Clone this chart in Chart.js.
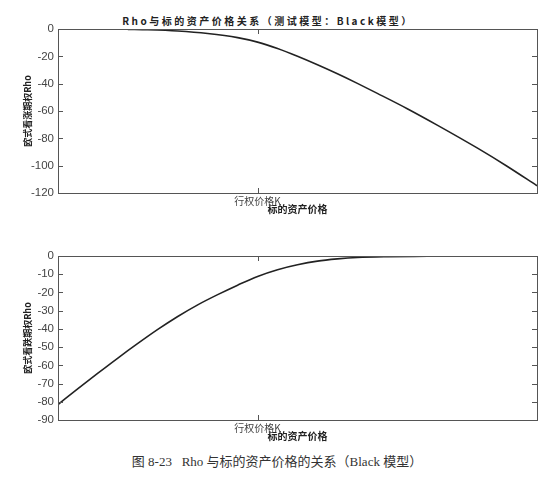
<!DOCTYPE html>
<html><head><meta charset="utf-8">
<script src="https://cdn.jsdelivr.net/npm/chart.js@4.4.0/dist/chart.umd.min.js"></script>
<style>
html,body{margin:0;padding:0;background:#fff;width:559px;height:483px;overflow:hidden;position:relative}
.box{position:absolute;left:0;width:559px;height:216px}
#b1{top:0}#b2{top:230px}
#title{position:absolute;left:0;width:536px;text-align:center;top:13px;font:bold 10px "Noto Sans CJK SC";letter-spacing:2.5px;color:#222;white-space:nowrap}
#caption{position:absolute;left:0;width:554px;text-align:center;top:451px;font:13px "Liberation Serif","Noto Sans CJK SC";color:#333;white-space:pre}
</style></head>
<body>
<div id="title">Rho与标的资产价格关系（测试模型：Black模型）</div>
<div class="box" id="b1"><canvas id="c1"></canvas></div>
<div class="box" id="b2"><canvas id="c2"></canvas></div>
<div id="caption">图 8-23   Rho 与标的资产价格的关系（Black 模型）</div>
<script>
// ---- data ----
const strike = 100;
const strikeLabel = '行权价格K';
const xAxisTitle = '标的资产价格';
const xCall = [35,45,60,75,90,100,110,120,130,140,150,160,175,190,210,225,240];
const rhoCall = [-0.3,-0.6,-1.5,-3.3,-6.3,-9.6,-14.3,-20,-26.2,-32.8,-39.8,-47.1,-58.3,-70.3,-87,-100.4,-114.7];
const xPut = [0,10,20,30,40,50,60,70,80,90,100,110,120,130,140,150,165,185];
const rhoPut = [-81.5,-72.8,-64.3,-56,-48,-40.3,-33.2,-26.8,-21.2,-16,-11.2,-7.5,-4.8,-2.8,-1.6,-0.8,-0.35,-0.15];
const callLabel = '欧式看涨期权Rho';
const putLabel = '欧式看跌期权Rho';

const boxPlugin = {
  id:'box',
  afterDraw(chart){
    const {ctx, chartArea:a, scales} = chart;
    ctx.save();
    ctx.strokeStyle='#555'; ctx.lineWidth=1;
    ctx.strokeRect(Math.round(a.left)+0.5, Math.round(a.top)+0.5, Math.round(a.right-a.left), Math.round(a.bottom-a.top));
    const tl=5;
    ctx.beginPath();
    scales.y.ticks.forEach(t=>{const p=Math.round(scales.y.getPixelForValue(t.value))+0.5;
      ctx.moveTo(a.left,p);ctx.lineTo(a.left+tl,p);ctx.moveTo(a.right,p);ctx.lineTo(a.right-tl,p);});
    scales.x.ticks.forEach(t=>{const p=Math.round(scales.x.getPixelForValue(t.value))+0.5;
      ctx.moveTo(p,a.bottom);ctx.lineTo(p,a.bottom-tl);ctx.moveTo(p,a.top);ctx.lineTo(p,a.top+tl);});
    ctx.stroke(); ctx.restore();
  }
};

function makeChart(id, xs, ys, yMin, yStep, yLabel, pad, xH){
  new Chart(document.getElementById(id), {
    type:'line',
    data:{datasets:[{data: xs.map((x,i)=>({x, y: ys[i]})), borderColor:'#222', borderWidth:1.6,
      pointRadius:0, cubicInterpolationMode:'monotone', fill:false}]},
    options:{
      responsive:true, maintainAspectRatio:false, animation:false,
      layout:{padding:pad},
      plugins:{legend:{display:false}, tooltip:{enabled:false}},
      scales:{
        x:{type:'linear', min:0, max:240,
          afterBuildTicks:s=>{s.ticks=[{value:strike}];},
          afterFit:s=>{s.height=xH;},
          grid:{display:false, drawTicks:false}, border:{display:false},
          ticks:{callback:()=>strikeLabel, autoSkip:false, maxRotation:0, padding:2,
            font:{family:'"Noto Sans CJK SC"', size:10}, color:'#444'},
          title:{display:true, text:xAxisTitle, padding:{top:0,bottom:0},
            font:{family:'"Noto Sans CJK SC"', size:10, weight:'bold'}, color:'#222'}},
        y:{min:yMin, max:0,
          afterFit:s=>{s.width=58-pad.left;},
          grid:{display:false, drawTicks:false}, border:{display:false},
          ticks:{stepSize:yStep, padding:4, font:{family:'"Liberation Sans"', size:11.5}, color:'#444'},
          title:{display:true, text:yLabel, padding:{top:2,bottom:0},
            font:{family:'"Noto Sans CJK SC"', size:9, weight:'bold'}, color:'#222'}}
      }
    },
    plugins:[boxPlugin]
  });
}
makeChart('c1', xCall, rhoCall, -120, 20, callLabel, {left:20, top:29, right:22, bottom:1}, 22);
makeChart('c2', xPut, rhoPut, -90, 10, putLabel, {left:20, top:26, right:22, bottom:3.3}, 22.7);
</script>
</body></html>
